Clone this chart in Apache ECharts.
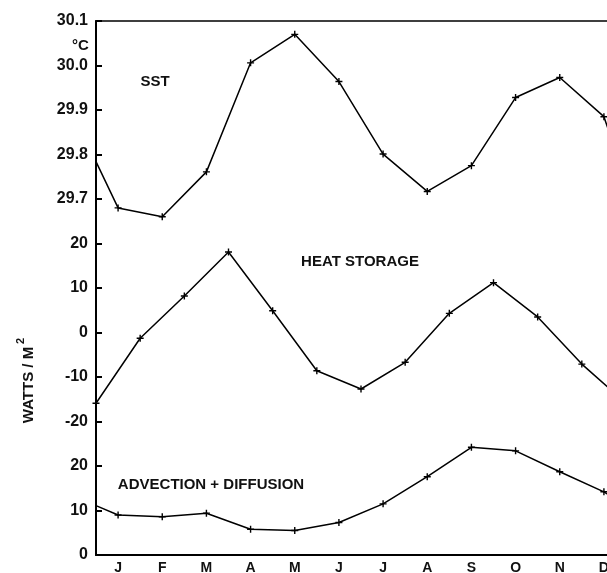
<!DOCTYPE html>
<html>
<head>
<meta charset="utf-8">
<script src="https://cdn.jsdelivr.net/npm/echarts@6/dist/echarts.min.js"></script>
<style>
html,body{margin:0;padding:0;background:#fff;overflow:hidden;width:607px;height:573px;}
#chart{width:630px;height:573px;}
</style>
</head>
<body>
<div id="chart"></div>
<script>
// Month tick labels (placed at mid-month)
const months = ['J','F','M','A','M','J','J','A','S','O','N','D'];

// SST (°C): value at start of year, mid-month values Jan..Dec, value at end of year
const sstX = [0, 0.5, 1.5, 2.5, 3.5, 4.5, 5.5, 6.5, 7.5, 8.5, 9.5, 10.5, 11.5, 12];
const sstValues = [29.784, 29.680, 29.660, 29.761, 30.006, 30.070, 29.964, 29.801, 29.717, 29.775, 29.928, 29.973, 29.885, 29.74];

// Heat storage (W/m²): values at month boundaries
const hsX = [0, 1, 2, 3, 4, 5, 6, 7, 8, 9, 10, 11, 12];
const hsValues = [-15.9, -1.3, 8.2, 18.1, 4.9, -8.6, -12.7, -6.7, 4.3, 11.2, 3.5, -7.1, -15.9];

// Advection + diffusion (W/m²): start of year, mid-month values, end of year
const advX = [0, 0.5, 1.5, 2.5, 3.5, 4.5, 5.5, 6.5, 7.5, 8.5, 9.5, 10.5, 11.5, 12];
const advValues = [11.1, 9.0, 8.6, 9.4, 5.8, 5.5, 7.3, 11.5, 17.6, 24.2, 23.4, 18.7, 14.2, 11.1];

const plus = 'path://M4,0H6V4H10V6H6V10H4V6H0V4H4Z';
const FONT = '"Liberation Sans", Arial, sans-serif';

function build(xs, ys, markFirst) {
  return xs.map((x, i) => {
    const item = { value: [x, ys[i]] };
    if (i === 0 && !markFirst) item.symbol = 'none';
    return item;
  });
}

const chart = echarts.init(document.getElementById('chart'), null, {renderer: 'canvas'});
const labelStyle = {color: '#111', fontFamily: FONT, fontWeight: 'bold', fontSize: 16, margin: 8};

const option = {
  animation: false,
  backgroundColor: '#fff',
  grid: {left: 96, top: 21, right: 4, bottom: 18, outerBoundsMode: 'none', containLabel: false,
         show: true, borderColor: '#000', borderWidth: 1.5, backgroundColor: 'transparent'},
  xAxis: {
    type: 'value', min: 0, max: 12, interval: 0.5,
    axisLine: {show: true, onZero: false, lineStyle: {color: '#000', width: 2}},
    axisTick: {show: false},
    splitLine: {show: false},
    axisLabel: {
      color: '#111', fontFamily: FONT, fontWeight: 'bold', fontSize: 14, margin: 6,
      formatter: v => (Math.abs(v % 1 - 0.5) < 1e-6 ? months[Math.floor(v)] : '')
    }
  },
  yAxis: [
    {
      type: 'value', min: 28.9, max: 30.1, interval: 0.1, position: 'left',
      axisLine: {show: true, onZero: false, lineStyle: {color: '#000', width: 2}},
      axisTick: {show: true, inside: true, length: 6, lineStyle: {color: '#000', width: 2}},
      splitLine: {show: false},
      axisLabel: Object.assign({}, labelStyle, {formatter: v => (v >= 29.65 ? v.toFixed(1) : '')})
    },
    {
      type: 'value', min: -50, max: 70, interval: 10, position: 'left',
      axisLine: {show: false}, axisTick: {show: false}, splitLine: {show: false},
      axisLabel: Object.assign({}, labelStyle, {formatter: v => (v >= -20 && v <= 20 ? String(v) : '')})
    },
    {
      type: 'value', min: 0, max: 120, interval: 10, position: 'left',
      axisLine: {show: false}, axisTick: {show: false}, splitLine: {show: false},
      axisLabel: Object.assign({}, labelStyle, {formatter: v => (v <= 20 ? String(v) : '')})
    }
  ],
  series: [
    {type: 'line', yAxisIndex: 0, data: build(sstX, sstValues, false), symbol: plus, symbolSize: 7,
     lineStyle: {color: '#000', width: 1.5}, itemStyle: {color: '#000'}, clip: true},
    {type: 'line', yAxisIndex: 1, data: build(hsX, hsValues, true), symbol: plus, symbolSize: 7,
     lineStyle: {color: '#000', width: 1.5}, itemStyle: {color: '#000'}, clip: true},
    {type: 'line', yAxisIndex: 2, data: build(advX, advValues, false), symbol: plus, symbolSize: 7,
     lineStyle: {color: '#000', width: 1.5}, itemStyle: {color: '#000'}, clip: true}
  ],
  graphic: [
    {type: 'text', left: 72, top: 38, style: {text: '°C', fill: '#111', font: 'bold 15px ' + FONT}},
    {type: 'text', x: 155, y: 82, style: {text: 'SST', fill: '#111', font: 'bold 15px ' + FONT, textAlign: 'center', textVerticalAlign: 'middle'}},
    {type: 'text', x: 360, y: 262, style: {text: 'HEAT STORAGE', fill: '#111', font: 'bold 15px ' + FONT, textAlign: 'center', textVerticalAlign: 'middle'}},
    {type: 'text', x: 211, y: 485, style: {text: 'ADVECTION + DIFFUSION', fill: '#111', font: 'bold 15px ' + FONT, textAlign: 'center', textVerticalAlign: 'middle'}},
    {type: 'text', x: 29, y: 385, rotation: Math.PI / 2, style: {text: 'WATTS / M', fill: '#111', font: 'bold 15px ' + FONT, textAlign: 'center', textVerticalAlign: 'middle'}},
    {type: 'text', x: 21, y: 341, rotation: Math.PI / 2, style: {text: '2', fill: '#111', font: 'bold 11px ' + FONT, textAlign: 'center', textVerticalAlign: 'middle'}}
  ]
};
chart.setOption(option);
</script>
</body>
</html>
